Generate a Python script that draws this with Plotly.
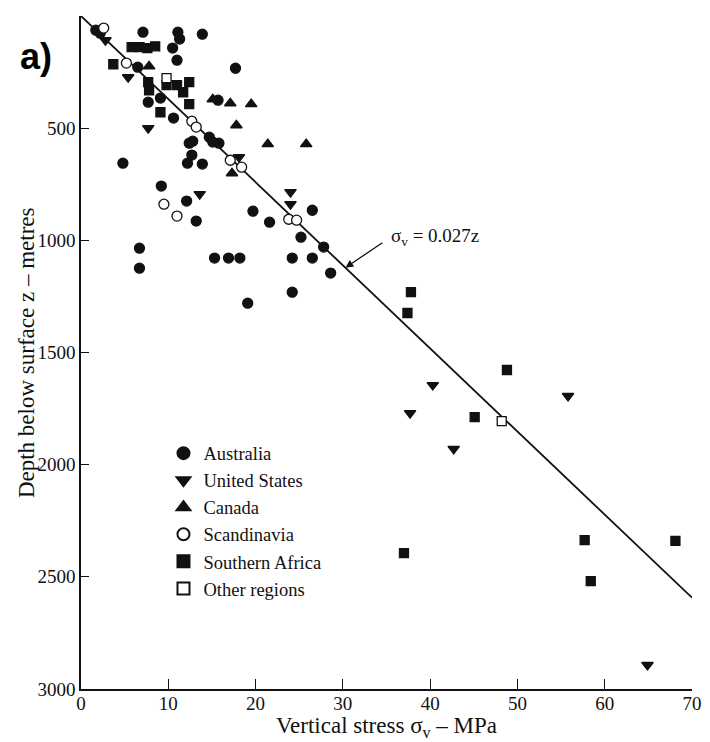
import plotly.graph_objects as go

# ---- data ----
aus_stress = [1.7, 2.2, 7.1, 11.1, 11.3, 13.9, 10.5, 11.0, 6.5, 17.7, 7.7, 9.1, 10.6, 15.7,
              12.8, 12.4, 14.7, 15.1, 15.8, 12.7, 12.2, 13.9, 4.8, 9.2, 12.1, 13.2, 19.7,
              21.6, 26.5, 25.2, 27.8, 6.7, 6.7, 15.3, 16.9, 18.2, 24.2, 26.5, 28.6, 24.2, 19.1]
aus_depth = [63, 77, 72, 72, 103, 81, 143, 197, 228, 233, 384, 366, 455, 375,
             558, 567, 540, 562, 567, 620, 656, 660, 656, 758, 825, 914, 870,
             919, 866, 986, 1030, 1035, 1124, 1079, 1079, 1079, 1079, 1079, 1146, 1231, 1280]

us_stress = [2.8, 5.4, 7.7, 18.1, 13.6, 24.0, 24.0, 40.3, 55.8, 37.7, 42.7, 64.9]
us_depth = [108, 273, 500, 629, 794, 785, 839, 1645, 1694, 1770, 1930, 2893]

can_stress = [7.8, 15.1, 17.1, 19.5, 17.8, 21.4, 25.8, 17.3]
can_depth = [224, 371, 389, 393, 487, 571, 571, 701]

scan_stress = [2.6, 5.2, 12.7, 13.2, 17.1, 18.4, 9.5, 11.0, 23.8, 24.7]
scan_depth = [54, 210, 469, 495, 643, 674, 839, 892, 906, 910]

saf_stress = [5.8, 6.7, 7.6, 8.5, 3.7, 7.7, 7.8, 9.8, 11.0, 12.4, 11.7, 12.4, 9.1,
              37.8, 37.4, 48.8, 45.1, 57.7, 68.1, 37.0, 58.4]
saf_depth = [139, 139, 143, 135, 215, 295, 331, 308, 308, 295, 340, 393, 429,
             1231, 1324, 1578, 1788, 2336, 2340, 2394, 2519]

oth_stress = [9.8, 48.2]
oth_depth = [277, 1806]

line_stress = [0, 70]
line_depth = [0, 2593]

x_ticks = [0, 10, 20, 30, 40, 50, 60, 70]
y_ticks = [500, 1000, 1500, 2000, 2500, 3000]

SERIF = "Liberation Serif, Times New Roman, serif"
INK = "#111111"

fig = go.Figure()
fig.add_trace(go.Scatter(x=line_stress, y=line_depth, mode="lines",
                         line=dict(color=INK, width=1.8), showlegend=False, hoverinfo="skip"))

series = [
    ("Australia", aus_stress, aus_depth, "circle", 10, INK),
    ("United States", us_stress, us_depth, "triangle-down", 10, INK),
    ("Canada", can_stress, can_depth, "triangle-up", 10, INK),
    ("Scandinavia", scan_stress, scan_depth, "circle", 10, "white"),
    ("Southern Africa", saf_stress, saf_depth, "square", 9, INK),
    ("Other regions", oth_stress, oth_depth, "square", 9, "white"),
]
for name, xs, ys, sym, size, fill in series:
    fig.add_trace(go.Scatter(
        x=xs, y=ys, mode="markers", name=name,
        marker=dict(symbol=sym, size=size, color=fill,
                    line=dict(color=INK, width=1.3)),
        cliponaxis=False))

# page has an 8px body margin: figure is offset by 8px, sizes compensate
fig.update_layout(
    width=702, height=734,
    margin=dict(l=73, r=11, t=8, b=53),
    paper_bgcolor="white", plot_bgcolor="white",
    font=dict(family=SERIF, size=19, color=INK),
    showlegend=True,
    legend=dict(x=0.135, y=0.378, xanchor="left", yanchor="top",
                bgcolor="rgba(0,0,0,0)", font=dict(family=SERIF, size=18.5, color=INK),
                itemsizing="constant"),
    xaxis=dict(range=[0, 70], tickvals=x_ticks, ticks="inside", ticklen=10,
               tickwidth=1.2, tickcolor=INK, showline=True, linecolor=INK, linewidth=1.6,
               showgrid=False, zeroline=False, mirror=False, ticklabelstandoff=-4,
               tickfont=dict(family=SERIF, size=19, color=INK)),
    yaxis=dict(range=[3000, 0], tickvals=y_ticks, ticks="inside", ticklen=8,
               tickwidth=1.2, tickcolor=INK, showline=True, linecolor=INK, linewidth=1.6,
               showgrid=False, zeroline=False, mirror=False,
               tickfont=dict(family=SERIF, size=19, color=INK)),
    annotations=[
        dict(text="Vertical stress σ<sub>v</sub> – MPa", xref="paper", yref="paper",
             x=0.5, y=-0.057, xanchor="center", yanchor="middle", showarrow=False,
             font=dict(family=SERIF, size=23, color=INK)),
        dict(text="Depth below surface z – metres", xref="paper", yref="paper",
             x=-0.089, y=0.5, xanchor="center", yanchor="middle", textangle=-90,
             showarrow=False, font=dict(family=SERIF, size=23, color=INK)),
        dict(text="<b>a)</b>", xref="paper", yref="paper", x=-0.074, y=0.94,
             xanchor="center", yanchor="middle", showarrow=False,
             font=dict(family="Liberation Sans, Arial, sans-serif", size=36, color="black")),
        dict(text="σ<sub>v</sub> = 0.027z", xref="x", yref="y", x=35.3, y=983,
             xanchor="left", yanchor="middle", showarrow=False,
             font=dict(family=SERIF, size=19, color=INK)),
        dict(text="", xref="x", yref="y", x=30.3, y=1122, axref="x", ayref="y",
             ax=34.7, ay=1006, showarrow=True, arrowhead=2, arrowsize=1.2,
             arrowwidth=1.3, arrowcolor=INK),
    ],
)

fig.write_html("out.html")
